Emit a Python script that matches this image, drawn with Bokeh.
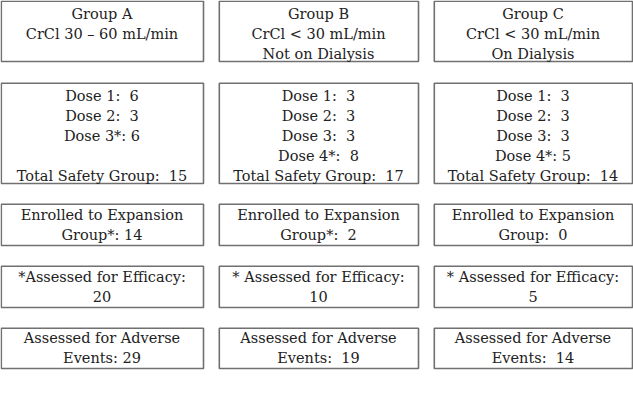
from bokeh.plotting import figure
from bokeh.models import Range1d, ColumnDataSource
from bokeh.core.properties import value
from bokeh.embed import file_html
from bokeh.resources import INLINE

# ---- data ----
groups = ["Group A", "Group B", "Group C"]
criteria = [["CrCl 30 \u2013 60 mL/min"],
            ["CrCl < 30 mL/min", "Not on Dialysis"],
            ["CrCl < 30 mL/min", "On Dialysis"]]
dose_labels = [["Dose 1:  ", "Dose 2:  ", "Dose 3*: "],
               ["Dose 1:  ", "Dose 2:  ", "Dose 3:  ", "Dose 4*:  "],
               ["Dose 1:  ", "Dose 2:  ", "Dose 3:  ", "Dose 4*: "]]
dose_counts = [[6, 3, 6], [3, 3, 3, 8], [3, 3, 3, 5]]
total_safety = [15, 17, 14]
expansion_label = [["Enrolled to Expansion", "Group*: "],
                   ["Enrolled to Expansion", "Group*:  "],
                   ["Enrolled to Expansion", "Group:  "]]
expansion = [14, 2, 0]
efficacy_label = ["*Assessed for Efficacy:", "* Assessed for Efficacy:", "* Assessed for Efficacy:"]
efficacy = [20, 10, 5]
adverse_label = ["Events: ", "Events:  ", "Events:  "]
adverse = [29, 19, 14]

# ---- layout (reference pixel units) ----
col_left = [0, 218, 433]
col_right = [203, 418, 632]
row_top = [0, 82, 203, 265, 327]
row_bot = [61, 183, 245, 307, 368]
line_h = 20

W, H = 633, 406
p = figure(width=633, height=406, output_backend="svg", toolbar_location=None,
           x_range=Range1d(0, W), y_range=Range1d(H, 0), min_border=0)
p.axis.visible = False
p.grid.visible = False
p.outline_line_color = None
p.background_fill_color = "white"

# boxes
L, R, T, B = [], [], [], []
for c in range(3):
    for r in range(5):
        L.append(col_left[c] + 0.8); R.append(col_right[c]); T.append(row_top[r] + 0.8); B.append(row_bot[r])
p.quad(left=L, right=R, top=T, bottom=B, fill_color="white",
       line_color="#707070", line_width=1.6)

# texts
xs, ys, ts = [], [], []
def keep_spaces(t):
    return t.replace("  ", " \u00a0")

def add_lines(c, r, lines):
    cx = (col_left[c] + col_right[c]) / 2
    n = len(lines)
    cy = (row_top[r] + row_bot[r]) / 2
    start = row_top[r] + 13 if r in (0, 1) else cy - (n - 1) * line_h / 2
    for i, t in enumerate(lines):
        xs.append(cx); ys.append(start + i * line_h); ts.append(keep_spaces(t))

for c in range(3):
    add_lines(c, 0, [groups[c]] + criteria[c])
    dl = [lab + str(v) for lab, v in zip(dose_labels[c], dose_counts[c])]
    if len(dl) == 3:
        dl.append("")
    dl.append("Total Safety Group:  " + str(total_safety[c]))
    add_lines(c, 1, dl)
    add_lines(c, 2, [expansion_label[c][0], expansion_label[c][1] + str(expansion[c])])
    add_lines(c, 3, [efficacy_label[c], str(efficacy[c])])
    add_lines(c, 4, ["Assessed for Adverse", adverse_label[c] + str(adverse[c])])

src = ColumnDataSource(dict(x=xs, y=ys, text=ts))
p.text(x="x", y="y", text="text", source=src, text_align="center",
       text_baseline="middle", text_font=value("DejaVu Serif"),
       text_font_size="14.5px", text_color="#222222")

open("out.html", "w").write(file_html(p, INLINE))
